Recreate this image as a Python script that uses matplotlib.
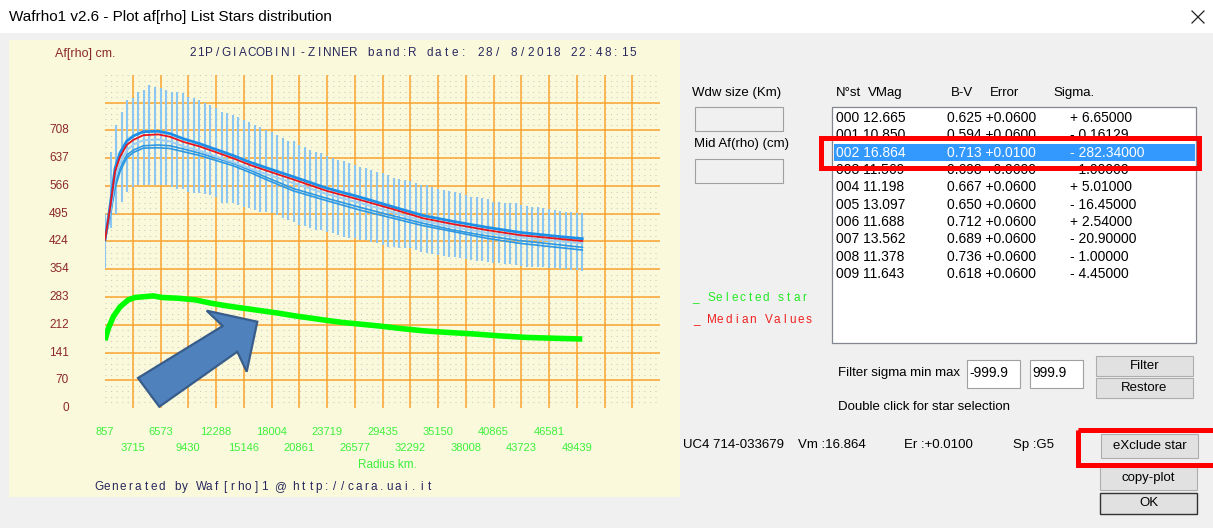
import matplotlib
matplotlib.use('Agg')
import matplotlib.pyplot as plt
from matplotlib.patches import Rectangle, Polygon

plt.rcParams['font.family'] = ['Liberation Sans', 'DejaVu Sans']
plt.rcParams['lines.scale_dashes'] = False

##### data #####
tick_km = [857, 3715, 6573, 9430, 12288, 15146, 18004, 20861, 23719, 26577,
           29435, 32292, 35150, 38008, 40865, 43723, 46581, 49439]
tick_af = [0, 70, 141, 212, 283, 354, 424, 495, 566, 637, 708]
km_step = 2857.76   # one grid cell in x
af_step = 70.8      # one grid cell in y

# radius of each spread bar (km)
radius = [857, 1429, 2000, 2572, 3143, 3715, 4286, 4858, 5430, 6001,
          6573, 7144, 7716, 8287, 8859, 9430, 10002, 10573, 11145, 11716,
          12288, 12860, 13431, 14003, 14574, 15146, 15717, 16289, 16860, 17432,
          18004, 18575, 19147, 19718, 20290, 20861, 21433, 22004, 22576, 23148,
          23719, 24291, 24862, 25434, 26005, 26577, 27148, 27720, 28291, 28863,
          29435, 30006, 30578, 31149, 31721, 32292, 32864, 33435, 34007, 34578,
          35150, 35722, 36293, 36865, 37436, 38008, 38579, 39151, 39722, 40294,
          40865, 41437, 42009, 42580, 43152, 43723, 44295, 44866, 45438, 46009,
          46581, 47153, 47724, 48296, 48867, 49439, 50010]
bar_hi = [495, 654, 722, 756, 786, 790, 807, 811, 824, 820,
          816, 811, 807, 807, 803, 794, 790, 786, 777, 773,
          765, 756, 752, 747, 743, 735, 730, 722, 716, 709,
          705, 697, 688, 682, 680, 671, 667, 658, 654, 650,
          642, 637, 633, 629, 625, 620, 616, 612, 608, 603,
          599, 595, 586, 584, 582, 578, 573, 569, 569, 565,
          560, 556, 554, 552, 548, 543, 539, 539, 535, 532,
          526, 526, 524, 522, 522, 518, 515, 514, 512, 509,
          507, 505, 503, 501, 501, 498, 497]
bar_lo = [356, 458, 495, 526, 552, 565, 569, 569, 569, 569,
          569, 569, 565, 560, 560, 552, 548, 548, 545, 543,
          539, 522, 522, 522, 518, 514, 509, 505, 501, 501,
          497, 492, 484, 480, 475, 467, 464, 458, 454, 454,
          450, 446, 441, 437, 433, 433, 429, 429, 424, 420,
          416, 412, 412, 407, 407, 407, 403, 399, 396, 394,
          390, 388, 384, 384, 382, 379, 378, 376, 376, 373,
          371, 369, 367, 367, 365, 362, 360, 360, 359, 359,
          356, 356, 354, 354, 352, 352, 350]

# median curve and the individual star curves
med_km = [857, 1372, 1887, 2402, 3092, 3771, 4801, 6346, 7551, 8920, 10640, 12360, 14069,
          15789, 17334, 20250, 23687, 27117, 30546, 33636, 36729, 40165, 43594, 47023, 50010]
med_af = [429, 509, 603, 641, 671, 684, 696, 698, 692, 679, 667, 652, 637,
          620, 607, 583, 554, 531, 507, 484, 469, 454, 441, 433, 426]
star_a = [429, 514, 611, 651, 681, 694, 705, 706, 700, 687, 674, 659, 644,
          627, 614, 590, 561, 538, 513, 491, 476, 461, 448, 439, 432]
star_b = [429, 495, 585, 625, 657, 672, 683, 685, 680, 668, 656, 641, 627,
          611, 598, 574, 546, 523, 499, 477, 462, 447, 435, 427, 420]
star_c = [429, 492, 569, 611, 645, 658, 669, 671, 669, 661, 650, 637, 624,
          607, 590, 560, 535, 512, 490, 471, 454, 439, 427, 418, 410]
star_d = [429, 485, 560, 603, 638, 652, 663, 664, 662, 654, 644, 631, 618,
          601, 584, 554, 529, 505, 484, 465, 450, 433, 420, 411, 403]

# selected star (green)
sel_km = [857, 1197, 1712, 2402, 3256, 3946, 5831, 6696, 8405, 10125, 11845, 13554, 15274,
          16994, 18703, 20423, 22143, 23852, 25397, 27117, 29177, 31236, 33636, 36046,
          38785, 41534, 44283, 47023, 50010]
sel_af = [173, 203, 233, 258, 276, 282, 286, 282, 280, 276, 267, 260, 254,
          248, 242, 235, 229, 223, 218, 214, 209, 203, 197, 193, 189, 184, 180, 178, 176]

# star list
star_id = ['000', '001', '002', '003', '004', '005', '006', '007', '008', '009']
vmag = ['12.665', '10.850', '16.864', '11.569', '11.198', '13.097', '11.688', '13.562', '11.378', '11.643']
bmv = ['0.625', '0.594', '0.713', '0.698', '0.667', '0.650', '0.712', '0.689', '0.736', '0.618']
err = ['+0.0600', '+0.0600', '+0.0100', '+0.0600', '+0.0600', '+0.0600', '+0.0600', '+0.0600', '+0.0600', '+0.0600']
sigma = ['+ 6.65000', '- 0.16129', '- 282.34000', '- 1.00000', '+ 5.01000', '- 16.45000',
         '+ 2.54000', '- 20.90000', '- 1.00000', '- 4.45000']
selected = 2

##### colours #####
cream = '#FAF9DC'
orange = '#FBA430'
navy = '#28285E'
dred = '#8B2828'
lgreen = '#3CF03C'


def spaced(a, x0, x1, y, s, **kw):
    # letter-spaced text like the original program
    step = (x1 - x0) / len(s)
    for i, ch in enumerate(s):
        a.text(x0 + (i + 0.5) * step, y, ch, ha='center', va='center', **kw)


def button(a, x0, y0, x1, y1, label, ec='#ADADAD', lw=0.8):
    a.add_patch(Rectangle((x0, y0), x1 - x0, y1 - y0, fc='#E1E1E1', ec=ec, lw=lw))
    a.text((x0 + x1) / 2, (y0 + y1) / 2, label, ha='center', va='center', fontsize=9.5)


def box(a, x0, y0, x1, y1, fc='white'):
    a.add_patch(Rectangle((x0, y0), x1 - x0, y1 - y0, fc=fc, ec='#A0A0A0', lw=0.8))


W, H = 1213, 528
fig = plt.figure(figsize=(W / 100, H / 100), dpi=100, facecolor='#F0F0F0')

bg = fig.add_axes([0, 0, 1, 1], zorder=0)
bg.set_xlim(0, W)
bg.set_ylim(H, 0)
bg.axis('off')

# title bar
bg.add_patch(Rectangle((0, 0), W, 33, fc='white', ec='none'))
bg.text(9, 17, 'Wafrho1 v2.6 - Plot af[rho] List Stars distribution', fontsize=11, va='center')
bg.plot([1192, 1204], [11, 23], color='#222222', lw=0.9)
bg.plot([1192, 1204], [23, 11], color='#222222', lw=0.9)

# plot panel
bg.add_patch(Rectangle((9, 40), 671, 457, fc=cream, ec='none'))
bg.text(55, 54, 'Af[rho] cm.', color=dred, fontsize=9, va='center')
spaced(bg, 188, 637, 53, '21P/GIACOBINI-ZINNER band:R date: 28/ 8/2018 22:48:15',
       color=navy, fontsize=8.5)
bg.text(387, 465, 'Radius km.', color=lgreen, fontsize=8.5, ha='center', va='center')
spaced(bg, 95, 433, 487, 'Generated by Waf[rho]1 @ http://cara.uai.it', color=navy, fontsize=8.5)

# legend text right of panel
spaced(bg, 692, 808, 298, '_ Selected star', color='#22E822', fontsize=8.5)
spaced(bg, 692, 813, 320, '_ Median Values', color='#F02020', fontsize=8.5)

# ---- main plot ----
ax = fig.add_axes([105 / W, (H - 408) / H, 555 / W, 333 / H], zorder=1)
ax.set_facecolor(cream)
xmax = tick_km[0] + 20 * km_step
ymax = 12 * af_step
ax.set_xlim(tick_km[0], xmax)
ax.set_ylim(0, ymax)
for s in ax.spines.values():
    s.set_visible(False)
ax.set_xticks([])
ax.set_yticks([])

for k in range(61):
    ax.axhline(k * af_step / 5, color='#C9C9C0', lw=0.75, linestyle=(0, (0.75, 3.25)), zorder=0.5)
for k in range(1, 20):
    ax.axvline(tick_km[0] + k * km_step, color=orange, lw=1.1, zorder=0.8)
for k in range(1, 12):
    ax.axhline(k * af_step, color=orange, lw=1.1, zorder=0.8)

ax.vlines(radius, bar_lo, bar_hi, colors='#8CC6F2', linewidth=1.5, zorder=2)
ax.plot(med_km, star_d, color='#2E98E2', lw=1.2, zorder=3)
ax.plot(med_km, star_c, color='#2E98E2', lw=1.2, zorder=3)
ax.plot(med_km, star_b, color='#9FD0F2', lw=1.5, zorder=3)
ax.plot(med_km, star_a, color='#1E8FE6', lw=2.0, zorder=3)
ax.plot(med_km, med_af, color='#E8141E', lw=1.3, zorder=4)
ax.plot(sel_km, sel_af, color='#00FF00', lw=4.0, zorder=4, solid_capstyle='butt')

xt = ax.get_xaxis_transform()
for k, v in enumerate(tick_km):
    ax.text(v, -0.072 if k % 2 == 0 else -0.120, str(v), transform=xt,
            color=lgreen, fontsize=8, ha='center', va='center', clip_on=False)
yt = ax.get_yaxis_transform()
for k, v in enumerate(tick_af):
    ax.text(-0.065, k * af_step, str(v), transform=yt, color=dred,
            fontsize=8.5, ha='right', va='center', clip_on=False)

# ---- right hand dialog controls ----
bg.text(692, 93, 'Wdw size (Km)', fontsize=9.5, va='center')
box(bg, 695, 107, 783, 131, fc='#F0F0F0')
bg.text(694, 144, 'Mid Af(rho) (cm)', fontsize=9.5, va='center')
box(bg, 695, 159, 783, 183, fc='#F0F0F0')

for x, lab in [(836, 'N°st'), (868, 'VMag'), (951, 'B-V'), (990, 'Error'), (1053, 'Sigma.')]:
    bg.text(x, 93, lab, fontsize=9.5, va='center')

bg.add_patch(Rectangle((832, 107), 364, 236, fc='white', ec='#828790', lw=0.9))
for i in range(len(star_id)):
    y = 118 + i * 17.35
    col = 'black'
    if i == selected:
        bg.add_patch(Rectangle((834, y - 8.5), 361, 17, fc='#3399FF', ec='none'))
        col = 'white'
    bg.text(836, y, star_id[i] + ' ' + vmag[i], fontsize=10, va='center', color=col)
    bg.text(947, y, bmv[i] + ' ' + err[i], fontsize=10, va='center', color=col)
    bg.text(1070, y, sigma[i], fontsize=10, va='center', color=col)

bg.text(838, 373, 'Filter sigma min max', fontsize=9.5, va='center')
box(bg, 967, 360, 1020, 388)
bg.text(969, 373, '-999.9', fontsize=10, va='center')
box(bg, 1030, 360, 1083, 388)
bg.text(1032, 373, '999.9', fontsize=10, va='center')
button(bg, 1096, 356, 1193, 376, 'Filter')
button(bg, 1096, 378, 1193, 398, 'Restore')
bg.text(838, 407, 'Double click for star selection', fontsize=9.5, va='center')

bg.text(683, 445, 'UC4 714-033679', fontsize=9.5, va='center')
bg.text(798, 445, 'Vm :16.864', fontsize=9.5, va='center')
bg.text(904, 445, 'Er :+0.0100', fontsize=9.5, va='center')
bg.text(1013, 445, 'Sp :G5', fontsize=9.5, va='center')
button(bg, 1101, 434, 1198, 458, 'eXclude star')
button(bg, 1100, 467, 1197, 490, 'copy-plot')
button(bg, 1100, 493, 1197, 514, 'OK', ec='#333333', lw=1.0)

# ---- annotations drawn over the screenshot ----
top = fig.add_axes([0, 0, 1, 1], zorder=5)
top.set_xlim(0, W)
top.set_ylim(H, 0)
top.axis('off')
top.add_patch(Polygon([(138, 378), (222.7, 326), (206.7, 310.7), (257.3, 321.7),
                       (246.7, 371.7), (237.3, 351.7), (159.3, 406.7)],
                      closed=True, fc='#4F81BD', ec='#385D8A', lw=1.6))
top.add_patch(Rectangle((820.5, 137.5), 378, 30, fill=False, ec='#FF0000', lw=3.6))
top.add_patch(Rectangle((1077.5, 429.5), 150, 35, fill=False, ec='#FF0000', lw=3.6))

fig.savefig('out.png', dpi=100, facecolor=fig.get_facecolor())
